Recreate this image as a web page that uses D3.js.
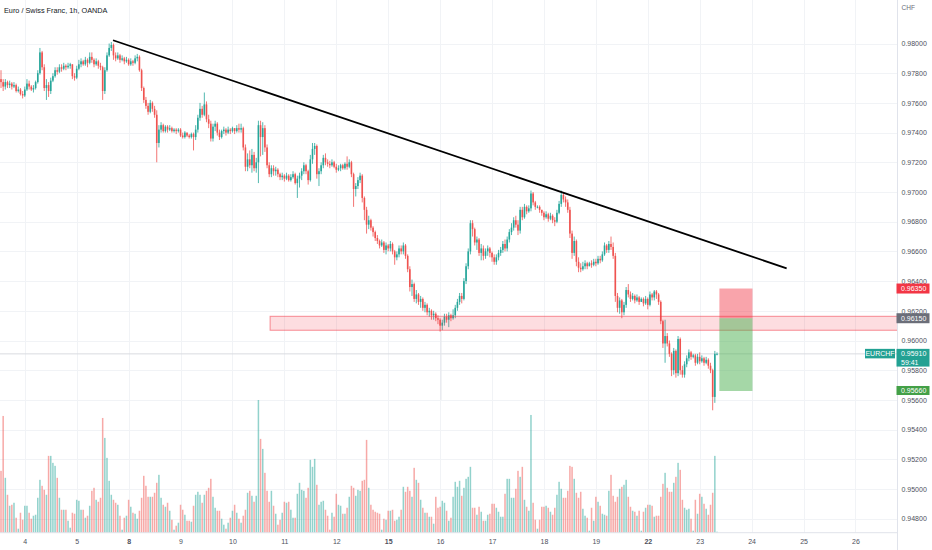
<!DOCTYPE html>
<html>
  <head>
    <meta charset="utf-8">
    <title>Euro / Swiss Franc, 1h</title>
    <script src="https://cdn.jsdelivr.net/npm/d3@7"></script>
    <style>
      body { margin: 0; background: #fff; }
      svg { display: block; font-family: "Liberation Sans", Arial, sans-serif; }
    </style>
  </head>
  <body>
    <script>
      // hourly candles EURCHF (open = previous close)
      var firstOpen = 0.9776;
      var closes = [
        .9774,.9771,.9774,.9772,.9773,.9771,.9772,.9768,.9769,.9766,
        .9765,.9769,.9773,.9771,.9769,.9770,.9774,.9780,.9794,.9784,
        .9770,.9772,.9768,.9775,.9778,.9782,.9781,.9784,.9783,.9785,
        .9784,.9785,.9786,.9778,.9777,.9783,.9786,.9788,.9786,.9789,
        .9787,.9791,.9789,.9786,.9788,.9785,.9784,.9768,.9782,.9792,
        .9797,.9799,.9792,.9790,.9792,.9789,.9790,.9788,.9789,.9786,
        .9788,.9787,.9790,.9791,.9782,.9770,.9762,.9758,.9754,.9760,
        .9756,.9752,.9733,.9742,.9745,.9741,.9744,.9742,.9743,.9741,
        .9742,.9741,.9742,.9738,.9737,.9740,.9738,.9737,.9739,.9737,
        .9742,.9750,.9756,.9752,.9759,.9749,.9746,.9736,.9744,.9746,
        .9740,.9737,.9741,.9742,.9740,.9742,.9741,.9743,.9741,.9743,
        .9742,.9743,.9730,.9717,.9722,.9718,.9725,.9716,.9720,.9745,
        .9737,.9743,.9730,.9718,.9712,.9716,.9714,.9715,.9712,.9710,
        .9711,.9709,.9711,.9708,.9710,.9712,.9706,.9709,.9711,.9714,
        .9718,.9714,.9708,.9722,.9729,.9731,.9712,.9714,.9718,.9723,
        .9720,.9719,.9718,.9720,.9717,.9715,.9716,.9718,.9716,.9719,
        .9717,.9720,.9712,.9702,.9704,.9708,.9711,.9696,.9688,.9678,
        .9681,.9676,.9673,.9669,.9667,.9664,.9666,.9661,.9664,.9662,
        .9665,.9660,.9656,.9658,.9662,.9660,.9664,.9657,.9648,.9636,
        .9638,.9628,.9631,.9626,.9628,.9622,.9624,.9619,.9620,.9617,
        .9618,.9615,.9614,.9610,.9612,.9616,.9614,.9617,.9615,.9617,
        .9622,.9626,.9630,.9628,.9640,.9650,.9660,.9679,.9675,.9666,
        .9668,.9659,.9662,.9657,.9660,.9662,.9659,.9656,.9653,.9656,
        .9659,.9661,.9665,.9662,.9668,.9673,.9676,.9681,.9678,.9674,
        .9688,.9683,.9690,.9687,.9689,.9699,.9693,.9690,.9690,.9688,
        .9686,.9683,.9685,.9682,.9684,.9681,.9680,.9686,.9692,.9698,
        .9695,.9693,.9688,.9672,.9659,.9667,.9653,.9649,.9648,.9650,
        .9652,.9650,.9652,.9651,.9653,.9652,.9655,.9654,.9658,.9664,
        .9661,.9665,.9663,.9657,.9630,.9622,.9627,.9619,.9624,.9634,
        .9631,.9628,.9630,.9627,.9629,.9626,.9628,.9625,.9628,.9624,
        .9631,.9629,.9633,.9631,.9626,.9613,.9598,.9603,.9598,.9591,
        .9580,.9593,.9578,.9601,.9580,.9577,.9584,.9588,.9592,.9589,
        .9590,.9585,.9589,.9586,.9588,.9585,.9587,.9583,.9580,.9562,
        .9591,.9591
      ];
      var highs = [
        .9782,.9776,.9776,.9775,.9775,.9774,.9774,.9773,.9771,.9770,
        .9768,.9771,.9776,.9775,.9772,.9772,.9775,.9782,.9797,.9795,
        .9786,.9776,.9774,.9777,.9780,.9784,.9784,.9786,.9786,.9787,
        .9786,.9787,.9787,.9786,.9780,.9785,.9789,.9790,.9789,.9791,
        .9790,.9794,.9794,.9790,.9790,.9789,.9787,.9785,.9784,.9794,
        .9800,.9801,.9800,.9794,.9794,.9793,.9792,.9791,.9791,.9790,
        .9790,.9789,.9792,.9793,.9792,.9783,.9771,.9764,.9760,.9762,
        .9761,.9758,.9755,.9745,.9747,.9746,.9745,.9745,.9745,.9744,
        .9743,.9743,.9743,.9743,.9740,.9741,.9740,.9739,.9740,.9740,
        .9745,.9752,.9760,.9758,.9767,.9761,.9752,.9748,.9746,.9748,
        .9747,.9742,.9742,.9744,.9743,.9744,.9743,.9744,.9743,.9745,
        .9746,.9746,.9744,.9732,.9726,.9728,.9729,.9727,.9723,.9748,
        .9748,.9747,.9745,.9732,.9720,.9718,.9718,.9717,.9716,.9713,
        .9713,.9712,.9713,.9712,.9712,.9714,.9713,.9711,.9713,.9716,
        .9720,.9719,.9715,.9725,.9733,.9733,.9732,.9716,.9720,.9725,
        .9726,.9722,.9721,.9722,.9721,.9719,.9718,.9719,.9719,.9720,
        .9724,.9722,.9721,.9713,.9706,.9710,.9713,.9712,.9697,.9690,
        .9684,.9682,.9677,.9674,.9671,.9668,.9668,.9667,.9666,.9665,
        .9667,.9666,.9661,.9660,.9664,.9664,.9666,.9665,.9658,.9650,
        .9641,.9639,.9634,.9632,.9630,.9629,.9626,.9625,.9622,.9621,
        .9620,.9619,.9617,.9615,.9614,.9618,.9618,.9619,.9618,.9621,
        .9624,.9628,.9632,.9632,.9642,.9652,.9662,.9681,.9681,.9676,
        .9670,.9669,.9665,.9664,.9662,.9664,.9663,.9660,.9658,.9658,
        .9661,.9663,.9667,.9668,.9670,.9675,.9679,.9683,.9684,.9681,
        .9690,.9690,.9692,.9691,.9691,.9701,.9700,.9694,.9691,.9691,
        .9688,.9687,.9687,.9686,.9686,.9685,.9683,.9688,.9694,.9701,
        .9700,.9697,.9695,.9690,.9674,.9670,.9668,.9656,.9652,.9653,
        .9654,.9653,.9653,.9654,.9655,.9655,.9657,.9657,.9660,.9666,
        .9665,.9667,.9670,.9666,.9659,.9632,.9629,.9628,.9626,.9636,
        .9638,.9633,.9632,.9631,.9631,.9630,.9629,.9629,.9630,.9629,
        .9633,.9632,.9634,.9634,.9632,.9627,.9614,.9614,.9605,.9600,
        .9592,.9595,.9594,.9603,.9602,.9583,.9586,.9590,.9594,.9593,
        .9591,.9591,.9591,.9592,.9590,.9589,.9589,.9588,.9585,.9581,
        .9593,.9592
      ];
      var lows = [
        .9770,.9768,.9769,.9770,.9770,.9769,.9770,.9767,.9767,.9765,
        .9763,.9764,.9768,.9769,.9768,.9767,.9769,.9773,.9779,.9782,
        .9768,.9762,.9764,.9766,.9774,.9777,.9779,.9780,.9781,.9782,
        .9782,.9783,.9783,.9776,.9775,.9776,.9782,.9784,.9785,.9785,
        .9784,.9786,.9787,.9784,.9785,.9783,.9782,.9762,.9766,.9781,
        .9791,.9795,.9789,.9788,.9789,.9787,.9788,.9786,.9787,.9785,
        .9785,.9785,.9786,.9788,.9781,.9768,.9760,.9756,.9752,.9753,
        .9754,.9750,.9720,.9730,.9740,.9740,.9740,.9740,.9741,.9740,
        .9740,.9739,.9740,.9737,.9736,.9736,.9737,.9736,.9736,.9728,
        .9735,.9740,.9748,.9750,.9751,.9747,.9743,.9734,.9734,.9741,
        .9738,.9735,.9736,.9739,.9738,.9739,.9739,.9740,.9739,.9740,
        .9740,.9740,.9728,.9714,.9714,.9716,.9713,.9714,.9713,.9706,
        .9724,.9725,.9727,.9716,.9710,.9710,.9711,.9711,.9710,.9708,
        .9708,.9707,.9708,.9707,.9707,.9709,.9705,.9696,.9703,.9708,
        .9712,.9712,.9705,.9707,.9719,.9725,.9709,.9704,.9712,.9716,
        .9718,.9717,.9716,.9717,.9716,.9713,.9714,.9714,.9715,.9715,
        .9715,.9716,.9710,.9690,.9697,.9702,.9706,.9693,.9681,.9672,
        .9675,.9674,.9670,.9667,.9665,.9662,.9663,.9659,.9658,.9660,
        .9660,.9658,.9651,.9654,.9656,.9658,.9658,.9655,.9646,.9633,
        .9630,.9626,.9625,.9624,.9622,.9620,.9619,.9617,.9616,.9614,
        .9614,.9613,.9611,.9606,.9607,.9610,.9612,.9609,.9613,.9614,
        .9615,.9620,.9624,.9625,.9627,.9638,.9648,.9658,.9670,.9664,
        .9661,.9657,.9654,.9654,.9655,.9657,.9656,.9653,.9651,.9651,
        .9654,.9657,.9659,.9660,.9660,.9666,.9671,.9674,.9676,.9671,
        .9672,.9681,.9682,.9685,.9686,.9687,.9691,.9688,.9689,.9686,
        .9684,.9681,.9682,.9680,.9681,.9679,.9677,.9679,.9685,.9690,
        .9693,.9690,.9686,.9669,.9655,.9657,.9650,.9646,.9646,.9647,
        .9648,.9648,.9650,.9649,.9650,.9650,.9651,.9652,.9653,.9657,
        .9659,.9659,.9661,.9655,.9626,.9619,.9618,.9615,.9617,.9622,
        .9629,.9626,.9627,.9625,.9626,.9624,.9626,.9623,.9624,.9621,
        .9623,.9627,.9627,.9628,.9624,.9611,.9595,.9585,.9596,.9589,
        .9576,.9577,.9575,.9576,.9577,.9575,.9575,.9582,.9586,.9587,
        .9588,.9583,.9584,.9584,.9585,.9583,.9584,.9581,.9578,.9553,
        .9558,.9590
      ];
      var volumes = [
        62,117,55,38,27,28,30,15,4,20,
        13,27,27,20,14,17,18,35,53,47,
        43,38,77,77,70,67,55,35,23,23,
        23,12,5,20,19,33,32,23,23,15,
        17,27,42,45,33,31,35,115,95,75,
        52,38,33,30,28,17,3,15,17,33,
        26,20,19,14,22,35,57,47,36,36,
        36,40,50,58,35,28,26,30,22,13,
        3,7,10,28,23,18,12,12,11,27,
        38,41,38,30,38,42,45,54,36,25,
        22,22,14,8,4,10,15,22,28,20,
        14,10,17,23,40,42,37,31,37,133,
        94,84,60,42,31,42,27,19,8,13,
        20,31,30,31,23,15,15,39,50,43,
        42,35,45,73,66,74,48,28,31,32,
        23,17,3,20,16,39,28,27,19,19,
        25,36,47,45,37,43,42,52,53,93,
        45,28,23,21,20,19,3,14,13,22,
        22,23,12,13,16,23,46,41,46,42,
        36,65,53,50,33,25,20,20,16,16,
        9,36,25,26,32,30,22,12,15,36,
        51,46,52,37,45,54,56,66,25,25,
        18,26,21,12,12,18,19,29,29,25,
        21,16,16,39,54,54,35,35,44,62,
        56,66,33,26,22,118,30,13,4,13,
        26,26,27,25,21,18,25,38,51,44,
        35,35,42,67,66,54,40,35,41,24,
        17,15,2,25,12,36,31,27,19,18,
        17,42,58,37,31,36,44,46,48,53,
        36,26,22,21,17,22,2,21,25,28,
        28,27,16,17,17,36,49,60,45,41,
        41,50,56,70,63,33,25,23,24,14,
        2,33,19,39,36,29,24,18,28,40,
        77,1
      ];

      // time axis: day labels and the candle index where each day starts
      var dayLabels = ["4","5","8","9","10","11","12","15","16","17","18","19","22","23","24","25","26"];
      var dayStarts = [11,35,59,83,107,131,155,179,203,227,251,275,299,323,347,371,395];
      var weekStarts = ["8","15","22"];
      var priceTicks = [0.948,0.950,0.952,0.954,0.956,0.958,0.960,0.962,0.964,
                        0.966,0.968,0.970,0.972,0.974,0.976,0.978,0.980];

      // drawings (candle index, price)
      var trendFrom = [51.8, 0.98022];
      var trendTo = [363.2, 0.96486];
      var zoneStart = 124.4;
      var zoneTop = 0.96163;
      var zoneBottom = 0.96069;
      var posStart = 332.1;
      var posEnd = 347.4;
      var stopPrice = 0.9635;
      var entryPrice = 0.9615;
      var targetPrice = 0.9566;
      var lastPrice = 0.9591;
      var markerIndex = 203.4;
      var markerPrices = [0.9606, 0.9560];

      var w = 932, h = 550;
      var axisX = 897.5, axisY = 532.7;
      var up = "#26a69a", down = "#ef5350";

      var svg = d3.select("body").append("svg")
                  .attr("width", w)
                  .attr("height", h);

      var x = d3.scaleLinear().domain([0, 331]).range([1, 717]);
      var y = d3.scaleLinear().domain([0.948, 0.98]).range([518.7, 43.5]);
      var yVol = d3.scaleLinear().domain([0, 133]).range([axisY, 400]);

      var candles = closes.map(function(c, i) {
        var o = i ? closes[i - 1] : firstOpen;
        return {i: i, o: o, c: c,
                h: Math.max(highs[i], o, c),
                l: Math.min(lows[i], o, c),
                v: volumes[i]};
      });

      // grid
      var grid = svg.append("g").attr("stroke", "#f1f3f6").attr("stroke-width", 1);
      grid.selectAll(".hg").data(priceTicks).enter().append("line")
          .attr("x1", 0).attr("x2", axisX)
          .attr("y1", function(d) { return Math.round(y(d)) + 0.5; })
          .attr("y2", function(d) { return Math.round(y(d)) + 0.5; });
      grid.selectAll(".vg").data(dayStarts).enter().append("line")
          .attr("x1", function(d) { return Math.round(x(d)) + 0.5; })
          .attr("x2", function(d) { return Math.round(x(d)) + 0.5; })
          .attr("y1", 0).attr("y2", axisY);

      // volume
      svg.append("g").selectAll("rect").data(candles).enter().append("rect")
         .attr("x", function(d) { return x(d.i) - 0.75; })
         .attr("width", 1.5)
         .attr("y", function(d) { return yVol(d.v); })
         .attr("height", function(d) { return yVol(0) - yVol(d.v); })
         .attr("fill", function(d) { return d.c >= d.o ? "rgba(38,166,154,0.5)" : "rgba(239,83,80,0.5)"; });

      // last price line and marker
      svg.append("line")
         .attr("x1", 0).attr("x2", axisX)
         .attr("y1", y(lastPrice)).attr("y2", y(lastPrice))
         .attr("stroke", "#d9dbe0").attr("stroke-width", 1);
      svg.append("line")
         .attr("x1", x(markerIndex)).attr("x2", x(markerIndex))
         .attr("y1", y(markerPrices[0])).attr("y2", y(markerPrices[1]))
         .attr("stroke", "#e3e5ea").attr("stroke-width", 1);

      // candles
      var cg = svg.append("g");
      cg.selectAll("line").data(candles).enter().append("line")
        .attr("x1", function(d) { return x(d.i); })
        .attr("x2", function(d) { return x(d.i); })
        .attr("y1", function(d) { return y(d.h); })
        .attr("y2", function(d) { return y(d.l); })
        .attr("stroke", function(d) { return d.c >= d.o ? up : down; })
        .attr("stroke-width", 0.8);
      cg.selectAll("rect").data(candles).enter().append("rect")
        .attr("x", function(d) { return x(d.i) - 0.8; })
        .attr("width", 1.6)
        .attr("y", function(d) { return y(Math.max(d.o, d.c)); })
        .attr("height", function(d) { return Math.max(0.8, Math.abs(y(d.o) - y(d.c))); })
        .attr("fill", function(d) { return d.c >= d.o ? up : down; });

      // support zone
      svg.append("rect")
         .attr("x", x(zoneStart)).attr("width", axisX - x(zoneStart))
         .attr("y", y(zoneTop)).attr("height", y(zoneBottom) - y(zoneTop))
         .attr("fill", "rgba(242,54,69,0.17)")
         .attr("stroke", "rgba(242,54,69,0.55)").attr("stroke-width", 1);

      // short position box
      svg.append("rect")
         .attr("x", x(posStart)).attr("width", x(posEnd) - x(posStart))
         .attr("y", y(stopPrice)).attr("height", y(entryPrice) - y(stopPrice))
         .attr("fill", "rgba(242,54,69,0.45)");
      svg.append("rect")
         .attr("x", x(posStart)).attr("width", x(posEnd) - x(posStart))
         .attr("y", y(entryPrice)).attr("height", y(targetPrice) - y(entryPrice))
         .attr("fill", "rgba(76,175,80,0.5)");

      // trend line
      svg.append("line")
         .attr("x1", x(trendFrom[0])).attr("y1", y(trendFrom[1]))
         .attr("x2", x(trendTo[0])).attr("y2", y(trendTo[1]))
         .attr("stroke", "#000").attr("stroke-width", 1.8);

      // axis borders
      svg.append("line").attr("x1", axisX).attr("x2", axisX).attr("y1", 0).attr("y2", h)
         .attr("stroke", "#e0e3eb");
      svg.append("line").attr("x1", 0).attr("x2", axisX).attr("y1", axisY).attr("y2", axisY)
         .attr("stroke", "#e0e3eb");

      // price axis
      var yAxis = d3.axisRight(y).tickValues(priceTicks)
                    .tickFormat(d3.format(".5f")).tickSize(0).tickPadding(4);
      var ya = svg.append("g").attr("transform", "translate(" + axisX + ",0)").call(yAxis);
      ya.select(".domain").remove();
      ya.attr("font-size", 7).attr("font-family", null);
      ya.selectAll("text").attr("fill", "#4e515c");

      // time axis
      var xAxis = d3.axisBottom(x).tickValues(dayStarts)
                    .tickFormat(function(d, i) { return dayLabels[i]; }).tickSize(0);
      var xa = svg.append("g").attr("transform", "translate(0," + axisY + ")").call(xAxis);
      xa.select(".domain").remove();
      xa.attr("font-size", 7).attr("font-family", null);
      xa.selectAll("text").attr("y", 9).attr("dy", "0.35em").attr("fill", "#4e515c")
        .attr("font-weight", function(d, i) { return weekStarts.indexOf(dayLabels[i]) >= 0 ? "bold" : null; });

      svg.append("text").attr("x", axisX + 4).attr("y", 10).attr("font-size", 6.5)
         .attr("fill", "#6a6d78").text("CHF");
      svg.append("text").attr("x", 4).attr("y", 12.5).attr("font-size", 7.3)
         .attr("fill", "#131722").text("Euro / Swiss Franc, 1h, OANDA");

      // price labels on the axis
      function priceTag(p, color, hgt) {
        svg.append("rect").attr("x", axisX - 1).attr("y", y(p) - 5)
           .attr("width", 33).attr("height", hgt).attr("fill", color);
        svg.append("text").attr("x", axisX + 3.5).attr("y", y(p)).attr("dy", "0.35em")
           .attr("font-size", 7).attr("fill", "#fff").text(d3.format(".5f")(p));
      }
      priceTag(stopPrice, "#f23645", 10);
      priceTag(entryPrice, "#6b6e79", 10);
      priceTag(lastPrice, "#22a193", 17.7);
      priceTag(targetPrice, "#43a047", 9);
      svg.append("text").attr("x", axisX + 3.5).attr("y", y(lastPrice) + 8.5).attr("dy", "0.35em")
         .attr("font-size", 7).attr("fill", "#fff").text("59:41");
      svg.append("rect").attr("x", axisX - 32.5).attr("y", y(lastPrice) - 5)
         .attr("width", 30).attr("height", 9.5).attr("fill", "#22a193");
      svg.append("text").attr("x", axisX - 17.5).attr("y", y(lastPrice)).attr("dy", "0.35em")
         .attr("text-anchor", "middle").attr("font-size", 7).attr("fill", "#fff").text("EURCHF");
    </script>
  </body>
</html>
